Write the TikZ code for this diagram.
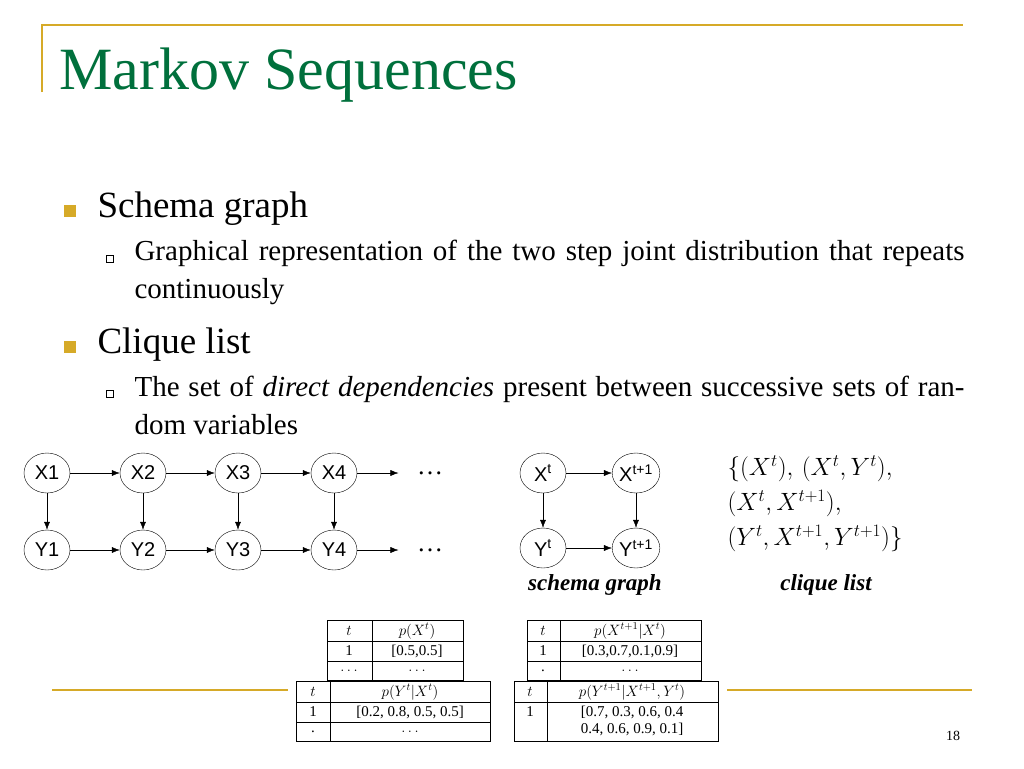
\RequirePackage{fix-cm}
\documentclass[tikz,border=0pt]{standalone}
\usepackage{fontspec}
\setmainfont{Liberation Serif}
\setsansfont{Liberation Sans}
\usetikzlibrary{positioning, shapes.geometric, arrows.meta, calc}
\tikzset{>={Latex[length=8pt,width=6pt]}}
\definecolor{gold}{RGB}{214,170,40}
\definecolor{titlegreen}{RGB}{0,112,60}

\begin{document}
\begin{tikzpicture}[x=1pt, y=-1pt]

\tikzstyle{var}=[draw=black, ellipse, minimum width=46pt, minimum height=40pt, inner sep=0pt, font=\sffamily\fontsize{20}{20}\selectfont]
\tikzstyle{cell}=[inner sep=0pt, font=\fontsize{15}{17}\selectfont]
\tikzstyle{tab}=[draw=black, fill=white]
\tikzstyle{bullet}=[fill=gold, minimum size=12pt, inner sep=0pt]
\tikzstyle{subbullet}=[draw=black, minimum size=7pt, inner sep=0pt]

\useasboundingbox (0,0) rectangle (1024,768);

% frame
\coordinate (top-l) at (42,25);
\coordinate (top-r) at (963,25);
\coordinate (side-b) at (42,92);
\draw [gold, line width=1.5pt] (side-b) -- (top-l) -- (top-r);
\node [anchor=west, text=titlegreen, font=\fontsize{60}{60}\selectfont] (title) at (56,75) {Markov Sequences};

% text
\node [bullet] (b1) at (70,211) {};
\node [anchor=west, font=\fontsize{37}{40}\selectfont] (t1) at (94,209) {Schema graph};
\node [subbullet] (s1) at (110,259) {};
\node [anchor=north west, text width=830pt, align=justify, font=\fontsize{29}{38}\selectfont] (t2) at (131,237) {Graphical representation of the two step joint distribution that repeats continuously};
\node [bullet] (b2) at (70,347) {};
\node [anchor=west, font=\fontsize{37}{40}\selectfont] (t3) at (94,345) {Clique list};
\node [subbullet] (s2) at (110,394) {};
\node [anchor=north west, text width=830pt, align=justify, font=\fontsize{29}{38}\selectfont] (t4) at (131,373) {The set of \textit{direct dependencies} present between successive sets of random variables};

% chain
\foreach \i/\x in {1/47,2/143,3/238,4/334}
{
	\node [var] (x-\i) at (\x,473) {X\i};
	\node [var] (y-\i) at (\x,550) {Y\i};
	\draw [->] (x-\i) -- (y-\i);
}
\foreach \i/\j in {1/2,2/3,3/4}
{
	\draw [->] (x-\i) -- (x-\j);
	\draw [->] (y-\i) -- (y-\j);
}
\node [font=\fontsize{26}{26}\selectfont] (x-dots) at (430,473) {\dots};
\node [font=\fontsize{26}{26}\selectfont] (y-dots) at (430,550) {\dots};
\draw [->] (x-4) -- ($(x-dots.west)+(-15,0)$);
\draw [->] (y-4) -- ($(y-dots.west)+(-15,0)$);

% schema graph
\node [var] (xt) at (543,473) {X\textsuperscript{t}};
\node [var] (xt1) at (636,473) {X\textsuperscript{t+1}};
\node [var] (yt) at (543,548) {Y\textsuperscript{t}};
\node [var] (yt1) at (636,548) {Y\textsuperscript{t+1}};
\draw [->] (xt) -- (xt1);
\draw [->] (yt) -- (yt1);
\draw [->] (xt) -- (yt);
\draw [->] (xt1) -- (yt1);
\node [font=\fontsize{23}{23}\selectfont\bfseries\itshape] (schema-lbl) at (595,585) {schema graph};

% clique list
\node [anchor=north west, align=left, font=\fontsize{25}{35}\selectfont] (cliques) at (724,452)
	{$\bigl\{(X^t),\,(X^t,Y^t),$\\ $(X^t,X^{t+1}),$\\ $(Y^t,X^{t+1},Y^{t+1})\bigr\}$};
\node [font=\fontsize{23}{23}\selectfont\bfseries\itshape] (clique-lbl) at (826,585) {clique list};

% bottom rules
\coordinate (rule-a) at (52,690);
\coordinate (rule-b) at (288,690);
\coordinate (rule-c) at (727,690);
\coordinate (rule-d) at (972,690);
\draw [gold, line width=1.5pt] (rule-a) -- (rule-b);
\draw [gold, line width=1.5pt] (rule-c) -- (rule-d);
\node [font=\fontsize{14}{14}\selectfont] (page) at (953,736) {18};

% tables
\draw [tab] (327,620) rectangle (463,680);
\draw (372,620) -- (372,680) (327,641) -- (463,641) (327,661) -- (463,661);
\node [cell] (ta-h1) at (349,631) {$t$};
\node [cell] (ta-h2) at (417,631) {$p(X^t)$};
\node [cell] (ta-a1) at (349,651) {1};
\node [cell] (ta-a2) at (417,651) {[0.5,0.5]};
\node [cell] (ta-b1) at (349,671) {$\dots$};
\node [cell] (ta-b2) at (417,671) {$\dots$};

\draw [tab] (527,620) rectangle (701,680);
\draw (560,620) -- (560,680) (527,641) -- (701,641) (527,661) -- (701,661);
\node [cell] (tc-h1) at (543,631) {$t$};
\node [cell] (tc-h2) at (630,631) {$p(X^{t+1}|X^t)$};
\node [cell] (tc-a1) at (543,651) {1};
\node [cell] (tc-a2) at (630,651) {[0.3,0.7,0.1,0.9]};
\node [cell] (tc-b1) at (543,671) {.};
\node [cell] (tc-b2) at (630,671) {$\dots$};

\draw [tab] (296,681) rectangle (490,741);
\draw (330,681) -- (330,741) (296,702) -- (490,702) (296,722) -- (490,722);
\node [cell] (tb-h1) at (313,692) {$t$};
\node [cell] (tb-h2) at (410,692) {$p(Y^t|X^t)$};
\node [cell] (tb-a1) at (313,712) {1};
\node [cell] (tb-a2) at (410,712) {[0.2, 0.8, 0.5, 0.5]};
\node [cell] (tb-b1) at (313,732) {.};
\node [cell] (tb-b2) at (410,732) {$\dots$};

\draw [tab] (514,681) rectangle (718,741);
\draw (547,681) -- (547,741) (514,702) -- (718,702);
\node [cell] (td-h1) at (530,692) {$t$};
\node [cell] (td-h2) at (632,692) {$p(Y^{t+1}|X^{t+1},Y^t)$};
\node [cell] (td-a1) at (530,712) {1};
\node [cell, align=center] (td-a2) at (632,721) {[0.7, 0.3, 0.6, 0.4\\0.4, 0.6, 0.9, 0.1]};

\end{tikzpicture}
\end{document}
